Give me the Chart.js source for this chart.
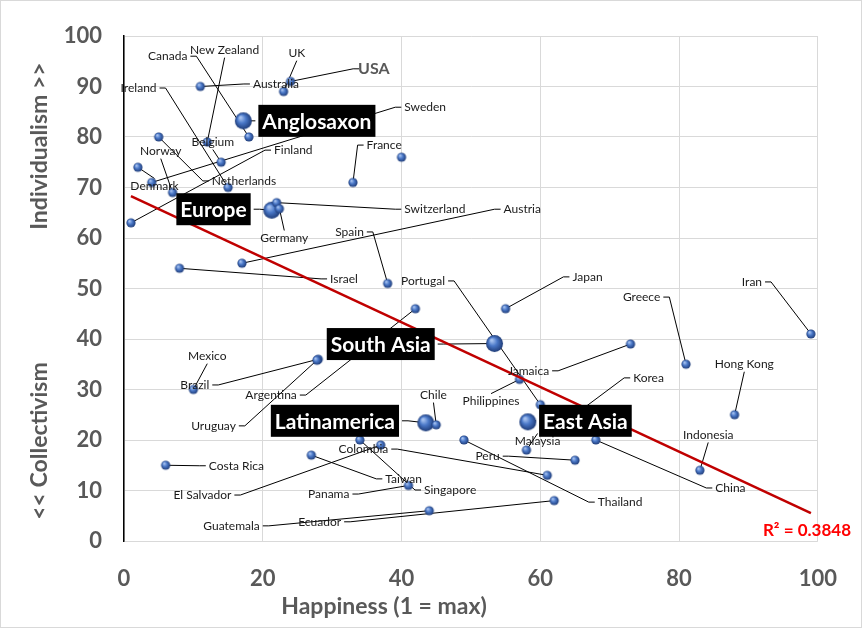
<!DOCTYPE html>
<html>
<head>
<meta charset="utf-8">
<script src="https://cdn.jsdelivr.net/npm/chart.js@4.4.1/dist/chart.umd.min.js"></script>
<style>
  body { margin: 0; background: #fff; }
  #wrap { width: 862px; height: 628px; }
</style>
</head>
<body>
<div id="wrap"><canvas id="myChart" width="862" height="628"></canvas></div>
<script>
// data
const countries = ['Canada', 'New Zealand', 'UK', 'USA', 'Australia', 'Ireland', 'Sweden', 'Belgium',
  'Norway', 'Finland', 'France', '', 'Denmark', 'Netherlands', 'Switzerland', 'Germany', 'Austria',
  'Spain', 'Israel', 'Portugal', 'Japan', 'Greece', 'Iran', 'Mexico', 'Brazil', 'Argentina', 'Uruguay',
  'Jamaica', 'Philippines', 'Korea', 'Hong Kong', 'Chile', 'Malaysia', 'Indonesia', 'Colombia', 'Peru',
  'Costa Rica', 'Taiwan', 'Singapore', 'El Salvador', 'Panama', 'China', 'Thailand', 'Guatemala', 'Ecuador'];
const happiness = [18, 12, 23, 24, 11, 15, 4, 14,
  7, 1, 33, 40, 2, 5, 22, 22.4, 17,
  38, 8, 60, 55, 81, 99, 10, 28, 42, 27.8,
  73, 57, 64, 88, 45, 58, 83, 61, 65,
  6, 27, 34, 37, 41, 68, 49, 44, 62];
const individualism = [80, 79, 89, 91, 90, 70, 71, 75,
  69, 63, 71, 76, 74, 80, 67, 65.8, 55,
  51, 54, 27, 46, 35, 41, 30, 36, 46, 35.8,
  39, 32, 24, 25, 23, 18, 14, 13, 16,
  15, 17, 20, 19, 11, 20, 20, 6, 8];

const regions = ['Anglosaxon', 'Europe', 'South Asia', 'Latinamerica', 'East Asia'];
const regionHappiness = [17.2, 21.3, 53.4, 43.5, 58.2];
const regionIndividualism = [83.2, 65.5, 39.1, 23.4, 23.6];

const trendX = [1, 99];
const trendY = [68.3, 5.5];
const rSquared = 'R² = 0.3848';

const xTicks = [0, 20, 40, 60, 80, 100];
const yTicks = [0, 10, 20, 30, 40, 50, 60, 70, 80, 90, 100];

// where each label sits (in axis units) and which side the leader line leaves from
const labelPlace = {
  'Canada': [6.3, 96, 'r'], 'New Zealand': [14.5, 97.2, 'b'], 'UK': [24.9, 96.6, 'b'],
  'USA': [36, 93.5, 'l'], 'Australia': [21.9, 90.5, 'l'], 'Ireland': [2.1, 89.7, 'r'],
  'Sweden': [43.4, 85.9, 'l'], 'Belgium': [12.8, 79, 'b'], 'Norway': [5.3, 77.2, 'b'],
  'Finland': [24.4, 77.4, 'l'], 'France': [37.5, 78.4, 'l'], 'Denmark': [4.4, 70.3, 't'],
  'Netherlands': [17.3, 71.3, 'l'], 'Switzerland': [44.8, 65.7, 'l'], 'Germany': [23.1, 60, 't'],
  'Austria': [57.4, 65.7, 'l'], 'Spain': [32.5, 61.2, 'r'], 'Israel': [31.7, 51.9, 'l'],
  'Portugal': [43.1, 51.5, 'r'], 'Japan': [66.8, 52.3, 'l'], 'Greece': [74.6, 48.3, 'r'],
  'Iran': [90.5, 51.3, 'r'], 'Mexico': [12, 36.6, 'b'], 'Brazil': [10.2, 30.9, 'r'],
  'Argentina': [21.2, 28.9, 'r'], 'Uruguay': [12.9, 22.8, 'r'], 'Jamaica': [58.3, 33.7, 'r'],
  'Philippines': [52.9, 27.7, 't'], 'Korea': [75.6, 32.3, 'l'], 'Hong Kong': [89.4, 35, 'b'],
  'Chile': [44.6, 28.9, 'b'], 'Malaysia': [59.6, 19.8, 't'], 'Indonesia': [84.2, 21, 'b'],
  'Colombia': [34.5, 18.2, 'r'], 'Peru': [52.4, 16.8, 'r'], 'Costa Rica': [16.2, 14.9, 'l'],
  'Taiwan': [40.3, 12.3, 'l'], 'Singapore': [47, 10.1, 'l'], 'El Salvador': [11.3, 9.1, 'r'],
  'Panama': [29.5, 9.3, 'r'], 'China': [87.4, 10.5, 'l'], 'Thailand': [71.5, 7.7, 'l'],
  'Guatemala': [15.5, 3, 'r'], 'Ecuador': [28.2, 3.8, 'r'],
  'Anglosaxon': [27.8, 83.2, 'l'], 'Europe': [12.9, 65.7, 'r'], 'South Asia': [37, 39, 'r'],
  'Latinamerica': [30.4, 23.8, 'r'], 'East Asia': [66.5, 23.8, 'l']
};

const grey = '#595959';
const labelFont = '12px Lato';
const boxFont = 'bold 21px Lato';
const boxPad = 8;

// little blue balls
function sphere(r) {
  const c = document.createElement('canvas');
  const s = Math.ceil(2 * r + 2);
  c.width = s; c.height = s;
  const g = c.getContext('2d');
  const m = s / 2;
  const grad = g.createRadialGradient(m - r * 0.35, m - r * 0.4, r * 0.1, m, m, r);
  grad.addColorStop(0, '#a8c3f0');
  grad.addColorStop(0.45, '#4a78c8');
  grad.addColorStop(1, '#1f3c78');
  g.beginPath();
  g.arc(m, m, r, 0, Math.PI * 2);
  g.fillStyle = grad;
  g.fill();
  return c;
}

const labelsPlugin = {
  id: 'labels',
  beforeDatasetsDraw(chart) {
    const ctx = chart.ctx, xs = chart.scales.x, ys = chart.scales.y;
    ctx.save();
    ctx.strokeStyle = '#000';
    ctx.lineWidth = 1;
    const lead = (names, xv, yv, font, padX, boxH) => {
      names.forEach((n, i) => {
        const p = labelPlace[n];
        if (!p) return;
        ctx.font = font;
        const w = ctx.measureText(n).width + padX;
        const cx = xs.getPixelForValue(p[0]), cy = ys.getPixelForValue(p[1]);
        const px = xs.getPixelForValue(xv[i]), py = ys.getPixelForValue(yv[i]);
        ctx.beginPath();
        ctx.moveTo(px, py);
        if (p[2] === 'l') {
          const ax = cx - w / 2 - 3;
          ctx.lineTo(ax - 6, cy); ctx.lineTo(ax, cy);
        } else if (p[2] === 'r') {
          const ax = cx + w / 2 + 3;
          ctx.lineTo(ax + 6, cy); ctx.lineTo(ax, cy);
        } else if (p[2] === 't') {
          ctx.lineTo(cx, cy - boxH / 2 - 1);
        } else {
          ctx.lineTo(cx, cy + boxH / 2 + 1);
        }
        ctx.stroke();
      });
    };
    lead(countries, happiness, individualism, labelFont, 0, 13);
    lead(regions, regionHappiness, regionIndividualism, boxFont, boxPad, 32);
    ctx.restore();
  },
  afterDatasetsDraw(chart) {
    const ctx = chart.ctx, xs = chart.scales.x, ys = chart.scales.y;
    ctx.save();
    ctx.textAlign = 'center';
    ctx.textBaseline = 'middle';
    countries.forEach(n => {
      const p = labelPlace[n];
      if (!p) return;
      const cx = xs.getPixelForValue(p[0]), cy = ys.getPixelForValue(p[1]);
      if (n === 'USA') {
        ctx.font = 'bold 16px Lato';
        ctx.fillStyle = grey;
      } else {
        ctx.font = labelFont;
        ctx.fillStyle = '#1a1a1a';
      }
      ctx.fillText(n, cx, cy);
    });
    ctx.font = boxFont;
    regions.forEach(n => {
      const p = labelPlace[n];
      const cx = xs.getPixelForValue(p[0]), cy = ys.getPixelForValue(p[1]);
      const w = ctx.measureText(n).width + boxPad;
      ctx.fillStyle = '#000';
      ctx.fillRect(cx - w / 2, cy - 16, w, 32);
      ctx.fillStyle = '#fff';
      ctx.fillText(n, cx, cy + 1);
    });
    // R squared
    ctx.font = 'bold 17px Lato';
    ctx.fillStyle = '#ff0000';
    ctx.textAlign = 'right';
    ctx.fillText(rSquared, 851, ys.getPixelForValue(2));
    ctx.restore();
  },
  afterDraw(chart) {
    const ctx = chart.ctx, ys = chart.scales.y;
    ctx.save();
    ctx.fillStyle = grey;
    ctx.font = 'bold 23px Lato';
    ctx.textAlign = 'center';
    ctx.textBaseline = 'middle';
    ctx.fillText('Happiness (1 = max)', 384, 607);
    const yt = (t, v) => {
      ctx.save();
      ctx.translate(40, ys.getPixelForValue(v));
      ctx.rotate(-Math.PI / 2);
      ctx.fillText(t, 0, 0);
      ctx.restore();
    };
    yt('Individualism >>', 78.2);
    yt('<< Collectivism', 19.8);
    ctx.strokeStyle = '#d9d9d9';
    ctx.lineWidth = 1;
    ctx.strokeRect(0.5, 0.5, chart.width - 1, chart.height - 1);
    ctx.restore();
  }
};

const ctx = document.getElementById('myChart');

new Chart(ctx, {
  type: 'scatter',
  data: {
    datasets: [{
      label: 'trend',
      type: 'line',
      data: trendX.map((x, i) => ({ x: x, y: trendY[i] })),
      borderColor: '#c00000',
      borderWidth: 2.5,
      pointRadius: 0,
      order: 0
    }, {
      label: 'countries',
      data: countries.map((n, i) => ({ x: happiness[i], y: individualism[i] })),
      pointStyle: sphere(4.6),
      pointRadius: 5,
      clip: false,
      order: 1
    }, {
      label: 'regions',
      data: regions.map((n, i) => ({ x: regionHappiness[i], y: regionIndividualism[i] })),
      pointStyle: sphere(8.5),
      pointRadius: 9,
      clip: false,
      order: 2
    }]
  },
  options: {
    responsive: false,
    animation: false,
    layout: { padding: { top: 36, right: 40, left: 0, bottom: 0 } },
    plugins: {
      legend: { display: false },
      tooltip: { enabled: false }
    },
    scales: {
      x: {
        min: 0, max: 100,
        afterBuildTicks: s => { s.ticks = xTicks.map(v => ({ value: v })); },
        afterFit: s => { s.height = 87; },
        grid: { color: '#d9d9d9', drawTicks: false },
        border: { display: false },
        ticks: { padding: 25, color: grey, font: { family: 'Lato', size: 22, weight: 'bold' } }
      },
      y: {
        min: 0, max: 100,
        afterBuildTicks: s => { s.ticks = yTicks.map(v => ({ value: v })); },
        afterFit: s => { s.width = 124; },
        grid: { color: '#d9d9d9', drawTicks: false },
        border: { color: '#000', width: 1.5 },
        ticks: { padding: 22, color: grey, font: { family: 'Lato', size: 22, weight: 'bold' } }
      }
    }
  },
  plugins: [labelsPlugin]
});
</script>
</body>
</html>
